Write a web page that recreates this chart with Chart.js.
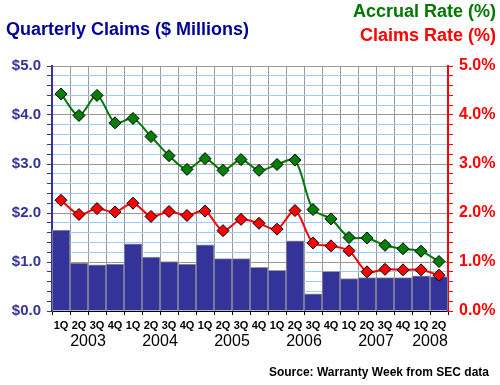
<!DOCTYPE html>
<html>
<head>
<meta charset="utf-8">
<script src="https://cdn.jsdelivr.net/npm/chart.js@4"></script>
<style>
  body { margin: 0; background: #fff; }
  #wrap { width: 500px; height: 385px; }
</style>
</head>
<body>
<div id="wrap"><canvas id="chart" width="500" height="385"></canvas></div>
<script>
// quarters 1Q 2003 .. 2Q 2008
const quarters = ['1Q','2Q','3Q','4Q','1Q','2Q','3Q','4Q','1Q','2Q','3Q','4Q',
                  '1Q','2Q','3Q','4Q','1Q','2Q','3Q','4Q','1Q','2Q'];
const years = ['2003','2004','2005','2006','2007','2008'];
const yearOfQuarter = [0,0,0,0,1,1,1,1,2,2,2,2,3,3,3,3,4,4,4,4,5,5];

// claims paid, $ millions (left axis)
const claims = [1.65, 0.98, 0.94, 0.96, 1.37, 1.10, 1.01, 0.96, 1.35, 1.07, 1.07, 0.89,
                0.83, 1.43, 0.35, 0.81, 0.66, 0.68, 0.68, 0.68, 0.72, 0.70];
// rates, % (right axis)
const accrualRate = [4.43, 3.99, 4.40, 3.84, 3.93, 3.56, 3.17, 2.89, 3.11, 2.87, 3.09, 2.87,
                     2.99, 3.08, 2.07, 1.88, 1.50, 1.49, 1.34, 1.27, 1.22, 1.01];
const claimsRate = [2.26, 1.97, 2.09, 2.02, 2.20, 1.93, 2.03, 1.95, 2.04, 1.64, 1.87, 1.79,
                    1.67, 2.05, 1.39, 1.33, 1.23, 0.80, 0.85, 0.84, 0.84, 0.73];

const FONT = '"Liberation Sans", Arial, sans-serif';
const isWhole = v => Math.abs(v - Math.round(v)) < 1e-6;

const textPlugin = {
  id: 'texts',
  afterDraw(chart) {
    const c = chart.ctx;
    const x = chart.scales.x;
    c.save();
    // year labels under the quarter ticks
    c.font = '16px ' + FONT;
    c.fillStyle = '#000';
    c.textAlign = 'center';
    c.textBaseline = 'middle';
    years.forEach((yr, i) => {
      const idx = yearOfQuarter.map((y, k) => y === i ? k : -1).filter(k => k >= 0);
      const px = idx.reduce((s, k) => s + x.getPixelForValue(k), 0) / idx.length;
      c.fillText(yr, px, 342);
    });
    // titles
    c.font = 'bold 18px ' + FONT;
    c.textAlign = 'left';
    c.fillStyle = '#000099';
    c.fillText('Quarterly Claims ($ Millions)', 6, 30);
    c.textAlign = 'right';
    c.fillStyle = '#007700';
    c.fillText('Accrual Rate (%)', 496, 12);
    c.fillStyle = '#ff0000';
    c.fillText('Claims Rate (%)', 496, 36);
    c.font = 'bold 12px ' + FONT;
    c.fillStyle = '#000';
    c.fillText('Source: Warranty Week from SEC data', 489, 373);
    c.restore();
  }
};

new Chart(document.getElementById('chart'), {
  type: 'bar',
  data: {
    labels: quarters,
    datasets: [
      {
        type: 'line',
        label: 'Accrual Rate',
        data: accrualRate,
        yAxisID: 'y1',
        borderColor: '#007700',
        borderWidth: 2,
        tension: 0.3,
        pointStyle: 'rectRot',
        pointRadius: 6,
        pointBackgroundColor: '#008000',
        pointBorderColor: '#000',
        pointBorderWidth: 1,
        order: 1
      },
      {
        type: 'line',
        label: 'Claims Rate',
        data: claimsRate,
        yAxisID: 'y1',
        borderColor: '#ff0000',
        borderWidth: 2,
        tension: 0.3,
        pointStyle: 'rectRot',
        pointRadius: 6,
        pointBackgroundColor: '#ff0000',
        pointBorderColor: '#000',
        pointBorderWidth: 1,
        order: 2
      },
      {
        label: 'Quarterly Claims',
        data: claims,
        yAxisID: 'y',
        backgroundColor: '#333399',
        borderColor: '#999999',
        borderWidth: 1,
        categoryPercentage: 1,
        barPercentage: 1,
        order: 3
      }
    ]
  },
  options: {
    responsive: false,
    animation: false,
    layout: { padding: { top: 66, left: 0, right: 0, bottom: 0 } },
    plugins: { legend: { display: false }, tooltip: { enabled: false } },
    scales: {
      x: {
        afterFit: s => { s.height = 74; },
        grid: { color: '#999999', offset: true, tickLength: 4, tickColor: '#000' },
        border: { color: '#000', width: 1 },
        ticks: { color: '#000', font: { family: FONT, size: 11, weight: 'bold' },
                 maxRotation: 0, autoSkip: false, padding: 4 }
      },
      y: {
        position: 'left',
        min: 0, max: 5,
        afterFit: s => { s.width = 52; },
        grid: {
          color: ctx => isWhole(ctx.tick.value) ? '#999999' : '#99ccff',
          tickColor: '#333399', tickLength: 5
        },
        border: { color: '#333399', width: 2 },
        ticks: {
          stepSize: 0.2, autoSkip: false, padding: 6,
          color: '#333399', font: { family: FONT, size: 15, weight: 'bold' },
          callback: v => isWhole(v) ? '$' + Number(v).toFixed(1) : ''
        }
      },
      y1: {
        position: 'right',
        min: 0, max: 5,
        afterFit: s => { s.width = 52; },
        grid: { drawOnChartArea: false, tickColor: '#ff0000', tickLength: 5 },
        border: { color: '#ff0000', width: 2 },
        ticks: {
          stepSize: 0.2, autoSkip: false, padding: 6,
          color: '#ff0000', font: { family: FONT, size: 16, weight: 'bold' },
          callback: v => isWhole(v) ? Number(v).toFixed(1) + '%' : ''
        }
      }
    }
  },
  plugins: [textPlugin]
});
</script>
</body>
</html>
